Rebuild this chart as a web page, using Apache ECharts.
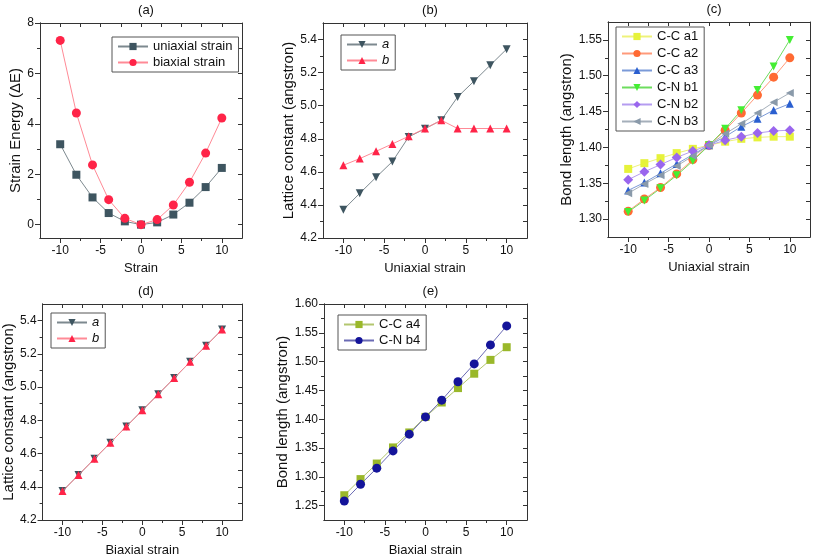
<!DOCTYPE html>
<html>
<head>
<meta charset="utf-8">
<script src="https://cdn.jsdelivr.net/npm/echarts@6/dist/echarts.min.js"></script>
<style>html,body{margin:0;padding:0;background:#fff}#c{width:813px;height:560px}</style>
</head>
<body>
<div id="c"></div>
<script>
// ---- data ----
const strain = [-10, -8, -6, -4, -2, 0, 2, 4, 6, 8, 10];
// (a)
const uniaxialEnergy = [3.19, 1.98, 1.08, 0.46, 0.13, 0.0, 0.09, 0.40, 0.87, 1.49, 2.25];
const biaxialEnergy  = [7.31, 4.43, 2.37, 0.99, 0.25, 0.0, 0.20, 0.78, 1.68, 2.84, 4.23];
// (b)
const uniLatticeA = [4.371, 4.470, 4.567, 4.662, 4.811, 4.861, 4.912, 5.053, 5.148, 5.245, 5.342];
const uniLatticeB = [4.640, 4.680, 4.724, 4.769, 4.815, 4.862, 4.912, 4.862, 4.862, 4.862, 4.862];
// (c)
const ccA1 = [1.370, 1.378, 1.385, 1.392, 1.398, 1.403, 1.408, 1.412, 1.414, 1.415, 1.415];
const ccA2 = [1.311, 1.328, 1.344, 1.363, 1.383, 1.403, 1.424, 1.448, 1.473, 1.498, 1.525];
const ccA3 = [1.340, 1.351, 1.364, 1.377, 1.390, 1.403, 1.415, 1.429, 1.440, 1.452, 1.461];
const cnB1 = [1.310, 1.326, 1.343, 1.361, 1.381, 1.403, 1.426, 1.452, 1.480, 1.513, 1.550];
const cnB2 = [1.355, 1.366, 1.376, 1.386, 1.395, 1.403, 1.410, 1.415, 1.420, 1.423, 1.424];
const cnB3 = [1.336, 1.349, 1.361, 1.374, 1.388, 1.403, 1.419, 1.433, 1.448, 1.463, 1.476];
// (d)
const biLatticeA = [4.374, 4.471, 4.568, 4.665, 4.763, 4.860, 4.957, 5.054, 5.152, 5.249, 5.346];
const biLatticeB = [4.374, 4.471, 4.568, 4.665, 4.763, 4.860, 4.957, 5.054, 5.152, 5.249, 5.346];
// (e)
const ccA4 = [1.268, 1.296, 1.323, 1.351, 1.377, 1.404, 1.429, 1.454, 1.479, 1.503, 1.525];
const cnB4 = [1.258, 1.287, 1.315, 1.345, 1.374, 1.404, 1.433, 1.465, 1.496, 1.529, 1.562];

// ---- tick labels ----
const strainTicks = [-10, -5, 0, 5, 10];
const strainMinor = [-7.5, -2.5, 2.5, 7.5];
const energyTicks = [0, 2, 4, 6, 8];
const energyMinor = [1, 3, 5, 7];
const latticeTicks = [4.2, 4.4, 4.6, 4.8, 5.0, 5.2, 5.4];
const latticeMinor = [4.3, 4.5, 4.7, 4.9, 5.1, 5.3];
const bondTicksC = [1.30, 1.35, 1.40, 1.45, 1.50, 1.55];
const bondMinorC = [1.325, 1.375, 1.425, 1.475, 1.525];
const bondTicksE = [1.25, 1.30, 1.35, 1.40, 1.45, 1.50, 1.55, 1.60];
const bondMinorE = [1.275, 1.325, 1.375, 1.425, 1.475, 1.525, 1.575];

const FONT = '"Liberation Sans", Arial, sans-serif';
const AX = '#333';

const option = {
  animation: false,
  backgroundColor: '#fff',
  textStyle: { fontFamily: FONT },
  title: [], grid: [], xAxis: [], yAxis: [], series: [], legend: []
};

function addPanel(p) {
  const g = option.grid.length;
  option.grid.push({ left: p.rect[0], top: p.rect[1], width: p.rect[2], height: p.rect[3], show: false });
  option.title.push({ text: p.title, left: p.rect[0] + p.rect[2] / 2, top: p.rect[1] - 24, textAlign: 'center',
    textStyle: { fontSize: 13, fontWeight: 'normal', color: '#111', fontFamily: FONT } });
  const line = { show: true, onZero: false, lineStyle: { color: AX, width: 1 } };
  const xBase = { type: 'value', gridIndex: g, min: p.x[0], max: p.x[1], splitLine: { show: false }, axisLine: line };
  const yBase = { type: 'value', gridIndex: g, min: p.y[0], max: p.y[1], splitLine: { show: false }, axisLine: line };
  const xi = option.xAxis.length, yi = option.yAxis.length;
  option.xAxis.push(Object.assign({}, xBase, {
    position: 'bottom',
    axisTick: { show: true, inside: false, length: 5, customValues: p.xTicks, lineStyle: { color: AX } },
    axisLabel: { show: true, customValues: p.xTicks, margin: 7, fontSize: 12, color: '#111', fontFamily: FONT },
    name: p.xName, nameLocation: 'middle', nameGap: 24,
    nameTextStyle: { fontSize: 13, color: '#111', fontFamily: FONT }
  }));
  option.xAxis.push(Object.assign({}, xBase, {
    position: 'bottom',
    axisTick: { show: true, inside: false, length: 3, customValues: p.xMinor, lineStyle: { color: AX } },
    axisLabel: { show: false }
  }));
  option.xAxis.push(Object.assign({}, xBase, {
    position: 'top',
    axisTick: { show: true, inside: true, length: 4, customValues: p.xTicks.concat(p.xMinor), lineStyle: { color: AX } },
    axisLabel: { show: false }
  }));
  option.yAxis.push(Object.assign({}, yBase, {
    position: 'left',
    axisTick: { show: true, inside: false, length: 5, customValues: p.yTicks, lineStyle: { color: AX } },
    axisLabel: { show: true, customValues: p.yTicks, margin: 6, fontSize: 12, color: '#111', fontFamily: FONT,
      formatter: v => p.yFmt(v) },
    name: p.yName, nameLocation: 'middle', nameGap: p.yGap, nameRotate: 90,
    nameTextStyle: { fontSize: 15, color: '#111', fontFamily: FONT }
  }));
  option.yAxis.push(Object.assign({}, yBase, {
    position: 'left',
    axisTick: { show: true, inside: false, length: 3, customValues: p.yMinor, lineStyle: { color: AX } },
    axisLabel: { show: false }
  }));
  option.yAxis.push(Object.assign({}, yBase, {
    position: 'right',
    axisTick: { show: true, inside: true, length: 4, customValues: p.yTicks.concat(p.yMinor), lineStyle: { color: AX } },
    axisLabel: { show: false }
  }));
  const names = [];
  p.series.forEach(s => {
    names.push(s.name);
    option.series.push({
      type: 'line', name: s.name, xAxisIndex: xi, yAxisIndex: yi,
      data: strain.map((x, i) => [x, s.data[i]]),
      symbol: s.symbol, symbolSize: s.size || 8, symbolRotate: s.rotate || 0,
      itemStyle: { color: s.color },
      lineStyle: { color: s.line, width: 1 },
      z: s.z || 2
    });
  });
  option.legend.push({
    data: names, orient: 'vertical', left: p.legend[0], top: p.legend[1],
    padding: [3, 6, 3, 5], itemGap: p.legendGap || 3, itemWidth: 30, itemHeight: 9,
    borderColor: '#555', borderWidth: 1, backgroundColor: '#fff',
    textStyle: { fontSize: 13, color: '#111', fontFamily: FONT, fontStyle: p.italic ? 'italic' : 'normal' },
    selectedMode: false
  });
}

const f1 = v => v.toFixed(1), f2 = v => v.toFixed(2), f0 = v => String(v);

addPanel({
  title: '(a)', rect: [40, 23, 202, 215], x: [-12.5, 12.5], y: [-0.53, 8],
  xTicks: strainTicks, xMinor: strainMinor, yTicks: energyTicks, yMinor: energyMinor, yFmt: f0,
  xName: 'Strain', yName: 'Strain Energy (\u0394E)', yGap: 17, legend: [112, 37],
  series: [
    { name: 'uniaxial strain', data: uniaxialEnergy, symbol: 'rect', color: '#3e5560', line: '#7d898f' },
    { name: 'biaxial strain', data: biaxialEnergy, symbol: 'circle', size: 9, color: '#ff2448', line: '#ff8a96' }
  ]
});
addPanel({
  title: '(b)', rect: [323, 23, 204, 215], x: [-12.5, 12.5], y: [4.2, 5.5],
  xTicks: strainTicks, xMinor: strainMinor, yTicks: latticeTicks, yMinor: latticeMinor, yFmt: f1,
  xName: 'Uniaxial strain', yName: 'Lattice constant (angstron)', yGap: 24, legend: [341, 35], italic: true,
  series: [
    { name: 'a', data: uniLatticeA, symbol: 'triangle', rotate: 180, color: '#3e5560', line: '#7d898f' },
    { name: 'b', data: uniLatticeB, symbol: 'triangle', color: '#ff2448', line: '#ff8a96' }
  ]
});
addPanel({
  title: '(c)', rect: [608, 22, 202, 215], x: [-12.5, 12.5], y: [1.275, 1.575],
  xTicks: strainTicks, xMinor: strainMinor, yTicks: bondTicksC, yMinor: bondMinorC, yFmt: f2,
  xName: 'Uniaxial strain', yName: 'Bond length (angstron)', yGap: 30, legend: [616, 27], legendGap: 4,
  series: [
    { name: 'C-C a1', data: ccA1, symbol: 'rect', color: '#e6f23a', line: '#eef27a' },
    { name: 'C-C a2', data: ccA2, symbol: 'circle', size: 9, color: '#ff6a33', line: '#ff9a7a' },
    { name: 'C-C a3', data: ccA3, symbol: 'triangle', color: '#2a5fd0', line: '#7b9ad8' },
    { name: 'C-N b1', data: cnB1, symbol: 'triangle', rotate: 180, color: '#44ee33', line: '#6ddd5e' },
    { name: 'C-N b2', data: cnB2, symbol: 'diamond', size: 10, color: '#9a66ee', line: '#b59cf0' },
    { name: 'C-N b3', data: cnB3, symbol: 'triangle', rotate: 90, color: '#8a9aaa', line: '#a5afba' }
  ]
});
addPanel({
  title: '(d)', rect: [40, 304, 202, 216], x: [-12.5, 12.5], y: [4.2, 5.5],
  xTicks: strainTicks, xMinor: strainMinor, yTicks: latticeTicks, yMinor: latticeMinor, yFmt: f1,
  xName: 'Biaxial strain', yName: 'Lattice constant (angstron)', yGap: 24, legend: [51, 313], italic: true,
  series: [
    { name: 'a', data: biLatticeA, symbol: 'triangle', rotate: 180, color: '#3e5560', line: '#7d898f' },
    { name: 'b', data: biLatticeB, symbol: 'triangle', color: '#ff2448', line: '#ff8a96', z: 3 }
  ]
});
addPanel({
  title: '(e)', rect: [324, 304, 203, 216], x: [-12.5, 12.5], y: [1.225, 1.60],
  xTicks: strainTicks, xMinor: strainMinor, yTicks: bondTicksE, yMinor: bondMinorE, yFmt: f2,
  xName: 'Biaxial strain', yName: 'Bond length (angstron)', yGap: 30, legend: [338, 315],
  series: [
    { name: 'C-C a4', data: ccA4, symbol: 'rect', color: '#9ab82a', line: '#b3c66f' },
    { name: 'C-N b4', data: cnB4, symbol: 'circle', size: 9, color: '#14149a', line: '#6a6ab4' }
  ]
});

const chart = echarts.init(document.getElementById('c'), null, { renderer: 'canvas' });
chart.setOption(option);
</script>
</body>
</html>
